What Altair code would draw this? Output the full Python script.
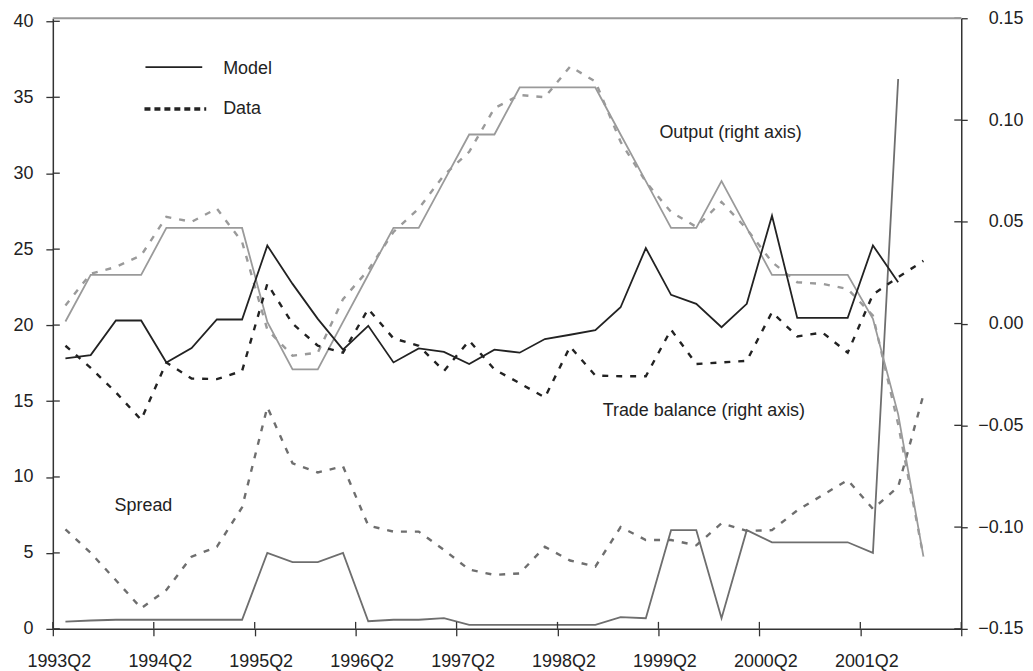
import altair as alt
import pandas as pd

# ---------------- data ----------------
# observations are quarterly, 1993Q2 ... 2001Q4, plotted mid-quarter
tick_labels = ["1993Q2", "1994Q2", "1995Q2", "1996Q2", "1997Q2",
               "1998Q2", "1999Q2", "2000Q2", "2001Q2", ""]

# Spread (left axis)
spread_model = [0.48, 0.55, 0.6, 0.6, 0.6, 0.6, 0.6, 0.6, 5.0, 4.4, 4.4, 5.0,
                0.5, 0.6, 0.6, 0.7, 0.26, 0.26, 0.26, 0.26, 0.26, 0.26, 0.77,
                0.7, 6.5, 6.5, 0.7, 6.5, 5.7, 5.7, 5.7, 5.7, 5.0, 36.2]
spread_data = [6.55, 5.0, 3.2, 1.36, 2.56, 4.75, 5.4, 8.0, 14.6, 10.9, 10.3,
               10.7, 6.8, 6.4, 6.4, 5.2, 3.9, 3.55, 3.65, 5.4, 4.5, 4.1, 6.7,
               5.85, 5.85, 5.5, 6.95, 6.45, 6.5, 7.8, 8.8, 9.8, 7.9, 9.35, 15.4]

# Trade balance (right axis)
trade_model = [-0.0171, -0.0155, 0.0015, 0.0015, -0.0191, -0.012, 0.002, 0.002,
               0.0383, 0.0195, 0.0023, -0.0128, -0.0011, -0.0191, -0.0122,
               -0.0139, -0.0199, -0.0128, -0.0143, -0.0076, -0.0055, -0.0032,
               0.008, 0.0371, 0.0141, 0.0097, -0.0018, 0.0097, 0.053, 0.0028,
               0.0028, 0.0028, 0.0384, 0.0203]
trade_data = [-0.0109, -0.0218, -0.0338, -0.0473, -0.0191, -0.027, -0.0273,
              -0.0233, 0.0195, 0.0, -0.0109, -0.0143, 0.0072, -0.0073, -0.0109,
              -0.0233, -0.0084, -0.0225, -0.0293, -0.0363, -0.0113, -0.0255,
              -0.0259, -0.0259, -0.003, -0.0199, -0.0191, -0.0183, 0.0056,
              -0.0063, -0.0044, -0.0143, 0.0143, 0.0228, 0.0308]

# Output (right axis)
output_model = [0.001, 0.0239, 0.0239, 0.0239, 0.047, 0.047, 0.047, 0.047,
                0.0008, -0.0225, -0.0225, 0.0008, 0.024, 0.047, 0.047, 0.07,
                0.0929, 0.0929, 0.116, 0.116, 0.116, 0.116, 0.0929, 0.07,
                0.047, 0.047, 0.07, 0.047, 0.0239, 0.0239, 0.0239, 0.0239,
                0.0023, -0.0446, -0.1144]
output_data = [0.0089, 0.0245, 0.0278, 0.0335, 0.0524, 0.05, 0.0565, 0.0401,
               -0.003, -0.0158, -0.0143, 0.012, 0.0263, 0.045, 0.0565, 0.0729,
               0.0844, 0.1058, 0.1123, 0.1112, 0.1263, 0.1189, 0.0893, 0.0696,
               0.0548, 0.0475, 0.0598, 0.0465, 0.0302, 0.0203, 0.0195, 0.017,
               0.0039, -0.0495, -0.1144]

left_ticks = [0, 5, 10, 15, 20, 25, 30, 35, 40]
right_ticks = [-0.15, -0.10, -0.05, 0.0, 0.05, 0.10, 0.15]
x_ticks = [0, 4, 8, 12, 16, 20, 24, 28, 32, 36]

# ---------------- layout / style ----------------
W, H = 912, 613
FONT = "Liberation Sans"
FS = 18
BLACK = "#222222"
AXC = "#333333"
SPREAD_C = "#6e6e6e"
OUTPUT_C = "#9a9a9a"
DASH = [6, 8]


def series_df(vals):
    return pd.DataFrame({"t": [i + 0.5 for i in range(len(vals))], "v": vals})


label_arr = "[" + ",".join("'%s'" % s for s in tick_labels) + "]"
x_axis = alt.Axis(values=x_ticks, labelExpr=label_arr + "[round(datum.value/4)]",
                  tickSize=7, labelPadding=17, labelOffset=6, labelFlush=False,
                  labelOverlap=False, domainColor=AXC, tickColor=AXC,
                  domainWidth=1.5, tickWidth=1.3, labelColor=BLACK,
                  labelFont=FONT, labelFontSize=FS, grid=False, title=None)
x_enc = alt.X("t:Q", scale=alt.Scale(domain=[0, 36], nice=False, zero=False),
              axis=x_axis)

left_axis = alt.Axis(values=left_ticks, tickSize=7, labelPadding=13,
                     domainColor=AXC, tickColor=AXC, domainWidth=1.5,
                     tickWidth=1.3, labelColor=BLACK, labelFont=FONT,
                     labelFontSize=FS, grid=False, title=None)
y_left = alt.Y("v:Q", scale=alt.Scale(domain=[0, 40.2], nice=False, zero=False),
               axis=left_axis)

right_axis = alt.Axis(orient="right", values=right_ticks, format=".2f",
                      tickSize=6, labelPadding=56, labelAlign="right",
                      domainColor=AXC, tickColor=AXC, domainWidth=1.5,
                      tickWidth=1.3, labelColor=BLACK, labelFont=FONT,
                      labelFontSize=FS, grid=False, title=None)
y_right = alt.Y("v:Q", scale=alt.Scale(domain=[-0.15, 0.15], nice=False,
                                       zero=False), axis=right_axis)


def line(vals, y_enc, color, dashed):
    kw = dict(color=color, strokeWidth=2.4 if dashed else 1.8,
              strokeJoin="miter")
    if dashed:
        kw["strokeDash"] = DASH
    return alt.Chart(series_df(vals)).mark_line(**kw).encode(x=x_enc, y=y_enc)


one = pd.DataFrame({"a": [0]})

# inner halves of the crossing ticks
left_in = alt.Chart(pd.DataFrame({"v": left_ticks})).mark_rule(
    color=AXC, strokeWidth=1.3).encode(x=alt.value(0), x2=alt.value(7), y=y_left)
right_in = alt.Chart(pd.DataFrame({"v": right_ticks})).mark_rule(
    color=AXC, strokeWidth=1.3).encode(x=alt.value(W - 7), x2=alt.value(W),
                                       y=y_right)
bottom_in = alt.Chart(pd.DataFrame({"t": x_ticks})).mark_rule(
    color=AXC, strokeWidth=1.3).encode(x=x_enc, y=alt.value(H - 7),
                                       y2=alt.value(H))

left_layer = alt.layer(
    line(spread_data, y_left, SPREAD_C, True),
    line(spread_model, y_left, SPREAD_C, False),
    left_in,
)
right_layer = alt.layer(
    line(output_data, y_right, OUTPUT_C, True),
    line(output_model, y_right, OUTPUT_C, False),
    line(trade_data, y_right, BLACK, True),
    line(trade_model, y_right, BLACK, False),
    right_in,
)

top_border = alt.Chart(one).mark_rule(color="#999999", strokeWidth=2).encode(
    x=alt.value(0), x2=alt.value(W), y=alt.value(0))


def label(txt, px, py):
    return alt.Chart(one).mark_text(text=txt, align="left", baseline="alphabetic",
                                    font=FONT, fontSize=FS, color=BLACK).encode(
        x=alt.value(px), y=alt.value(py))


leg_model = alt.Chart(one).mark_rule(color=BLACK, strokeWidth=1.8).encode(
    x=alt.value(93), x2=alt.value(150), y=alt.value(49))
leg_data = alt.Chart(one).mark_rule(color=BLACK, strokeWidth=3.5,
                                    strokeDash=[6, 4]).encode(
    x=alt.value(92), x2=alt.value(154), y=alt.value(91))

chart = alt.layer(
    left_layer,
    right_layer,
    bottom_in,
    top_border,
    leg_model,
    leg_data,
    label("Model", 171, 56),
    label("Data", 171, 96),
    label("Output (right axis)", 609, 120),
    label("Trade balance (right axis)", 552, 399),
    label("Spread", 62, 495),
).resolve_scale(y="independent").properties(
    width=W, height=H,
    padding={"left": 45, "top": 9, "right": 64, "bottom": 41},
    autosize=alt.AutoSizeParams(type="none"),
    background="white",
).configure_view(stroke=None)

chart.save("out.html", embed_options={"renderer": "svg", "actions": False})
